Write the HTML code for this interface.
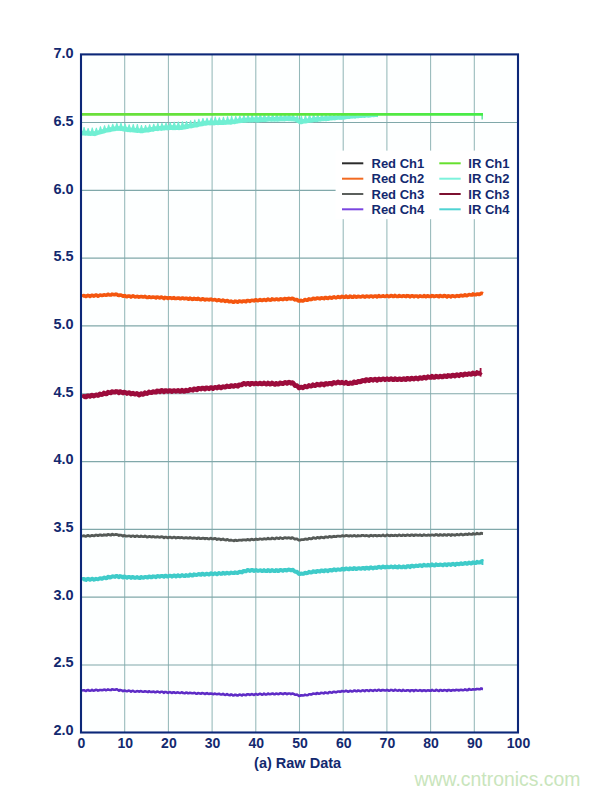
<!DOCTYPE html>
<html><head><meta charset="utf-8"><title>(a) Raw Data</title>
<style>
html,body{margin:0;padding:0;background:#fff;}
body{width:600px;height:796px;overflow:hidden;font-family:"Liberation Sans",sans-serif;}
svg{display:block;}
svg text{font-family:"Liberation Sans",sans-serif;font-weight:bold;fill:#13296f;}
</style></head><body>
<svg width="600" height="796" viewBox="0 0 600 796">
<defs><linearGradient id="gg" gradientUnits="userSpaceOnUse" x1="82" y1="0" x2="483" y2="0"><stop offset="0" stop-color="#6bdf3a"/><stop offset="0.6" stop-color="#5be63e"/><stop offset="1" stop-color="#46ec48"/></linearGradient></defs>
<rect x="0" y="0" width="600" height="796" fill="#ffffff"/>
<rect x="81" y="54.4" width="437" height="678.1" fill="#fdffff"/>
<g stroke-width="1.15" fill="none"><line x1="124.70" y1="54.4" x2="124.70" y2="732.5" stroke="#94b8b9" stroke-width="1.05"/><line x1="168.40" y1="54.4" x2="168.40" y2="732.5" stroke="#94b8b9" stroke-width="1.05"/><line x1="212.10" y1="54.4" x2="212.10" y2="732.5" stroke="#94b8b9" stroke-width="1.05"/><line x1="255.80" y1="54.4" x2="255.80" y2="732.5" stroke="#94b8b9" stroke-width="1.05"/><line x1="299.50" y1="54.4" x2="299.50" y2="732.5" stroke="#94b8b9" stroke-width="1.05"/><line x1="343.20" y1="54.4" x2="343.20" y2="732.5" stroke="#94b8b9" stroke-width="1.05"/><line x1="386.90" y1="54.4" x2="386.90" y2="732.5" stroke="#94b8b9" stroke-width="1.05"/><line x1="430.60" y1="54.4" x2="430.60" y2="732.5" stroke="#94b8b9" stroke-width="1.05"/><line x1="474.30" y1="54.4" x2="474.30" y2="732.5" stroke="#94b8b9" stroke-width="1.05"/><line x1="81.0" y1="122.51" x2="518.0" y2="122.51" stroke="#80a8aa"/><line x1="81.0" y1="190.32" x2="518.0" y2="190.32" stroke="#80a8aa"/><line x1="81.0" y1="258.13" x2="518.0" y2="258.13" stroke="#80a8aa"/><line x1="81.0" y1="325.94" x2="518.0" y2="325.94" stroke="#80a8aa"/><line x1="81.0" y1="393.75" x2="518.0" y2="393.75" stroke="#80a8aa"/><line x1="81.0" y1="461.56" x2="518.0" y2="461.56" stroke="#80a8aa"/><line x1="81.0" y1="529.37" x2="518.0" y2="529.37" stroke="#80a8aa"/><line x1="81.0" y1="597.18" x2="518.0" y2="597.18" stroke="#80a8aa"/><line x1="81.0" y1="664.99" x2="518.0" y2="664.99" stroke="#80a8aa"/></g>
<g fill="none" stroke-linejoin="round" stroke-linecap="butt">
<path d="M82.0,130.7 L83.0,130.9 L84.0,130.9 L85.0,130.7 L86.0,130.7 L87.0,130.8 L88.0,131.0 L89.0,130.9 L90.0,131.2 L91.0,131.2 L92.0,131.4 L93.0,131.4 L94.0,131.1 L95.0,131.2 L96.0,130.8 L97.0,130.8 L98.0,130.4 L99.0,129.9 L100.0,129.9 L101.0,129.4 L102.0,129.2 L103.0,129.0 L104.0,128.5 L105.0,128.3 L106.0,128.2 L107.0,128.1 L108.0,127.7 L109.0,127.3 L110.0,127.1 L111.0,127.2 L112.0,127.1 L113.0,126.8 L114.0,126.5 L115.0,126.5 L116.0,126.1 L117.0,125.7 L118.0,125.9 L119.0,126.2 L120.0,126.1 L121.0,126.0 L122.0,126.2 L123.0,126.3 L124.0,126.5 L125.0,126.8 L126.0,126.7 L127.0,127.1 L128.0,127.4 L129.0,127.3 L130.0,127.4 L131.0,127.8 L132.0,127.5 L133.0,127.6 L134.0,127.9 L135.0,127.7 L136.0,127.9 L137.0,128.3 L138.0,128.1 L139.0,128.3 L140.0,128.5 L141.0,128.6 L142.0,128.4 L143.0,128.2 L144.0,128.0 L145.0,128.0 L146.0,127.9 L147.0,127.5 L148.0,127.4 L149.0,127.2 L150.0,127.4 L151.0,127.0 L152.0,126.9 L153.0,127.0 L154.0,126.6 L155.0,126.3 L156.0,126.3 L157.0,126.5 L158.0,126.0 L159.0,126.1 L160.0,126.0 L161.0,125.9 L162.0,126.0 L163.0,125.6 L164.0,125.5 L165.0,125.6 L166.0,125.4 L167.0,125.5 L168.0,125.5 L169.0,125.5 L170.0,125.2 L171.0,125.2 L172.0,125.1 L173.0,125.2 L174.0,125.5 L175.0,125.5 L176.0,125.5 L177.0,125.2 L178.0,125.1 L179.0,125.4 L180.0,125.5 L181.0,125.2 L182.0,124.8 L183.0,125.0 L184.0,124.8 L185.0,124.3 L186.0,124.3 L187.0,124.4 L188.0,124.0 L189.0,124.0 L190.0,123.5 L191.0,123.7 L192.0,123.2 L193.0,123.4 L194.0,122.9 L195.0,122.6 L196.0,122.8 L197.0,122.4 L198.0,122.2 L199.0,122.2 L200.0,121.7 L201.0,121.5 L202.0,121.3 L203.0,121.0 L204.0,120.9 L205.0,120.8 L206.0,120.7 L207.0,120.7 L208.0,120.7 L209.0,120.6 L210.0,120.4 L211.0,120.4 L212.0,120.6 L213.0,120.4 L214.0,120.5 L215.0,120.2 L216.0,120.2 L217.0,120.5 L218.0,120.3 L219.0,120.4 L220.0,120.3 L221.0,120.2 L222.0,120.1 L223.0,120.1 L224.0,120.1 L225.0,120.2 L226.0,120.0 L227.0,120.1 L228.0,119.7 L229.0,119.6 L230.0,119.6 L231.0,119.8 L232.0,119.4 L233.0,119.5 L234.0,119.5 L235.0,119.0 L236.0,118.9 L237.0,119.1 L238.0,118.6 L239.0,118.6 L240.0,118.3 L241.0,118.4 L242.0,118.2 L243.0,117.8 L244.0,118.0 L245.0,117.6 L246.0,117.9 L247.0,117.5 L248.0,117.5 L249.0,117.6 L250.0,117.6 L251.0,117.8 L252.0,117.4 L253.0,117.6 L254.0,117.3 L255.0,117.6 L256.0,117.3 L257.0,117.5 L258.0,117.2 L259.0,117.2 L260.0,117.3 L261.0,117.3 L262.0,117.2 L263.0,117.3 L264.0,117.0 L265.0,117.0 L266.0,117.1 L267.0,117.3 L268.0,117.1 L269.0,117.0 L270.0,116.9 L271.0,117.1 L272.0,116.8 L273.0,117.2 L274.0,117.1 L275.0,116.9 L276.0,116.8 L277.0,116.9 L278.0,116.7 L279.0,116.8 L280.0,116.6 L281.0,116.4 L282.0,116.4 L283.0,116.4 L284.0,116.3 L285.0,116.7 L286.0,116.3 L287.0,116.3 L288.0,116.2 L289.0,116.2 L290.0,116.5 L291.0,116.3 L292.0,116.4 L293.0,116.4 L294.0,116.8 L295.0,116.8 L296.0,117.3 L297.0,117.9 L298.0,118.5 L299.0,119.2 L300.0,119.6 L301.0,119.5 L302.0,119.3 L303.0,118.9 L304.0,119.1 L305.0,118.8 L306.0,118.3 L307.0,118.5 L308.0,118.3 L309.0,117.8 L310.0,117.8 L311.0,117.9 L312.0,117.7 L313.0,117.6 L314.0,117.3 L315.0,117.2 L316.0,117.1 L317.0,117.2 L318.0,117.1 L319.0,117.0 L320.0,117.0 L321.0,116.8 L322.0,116.8 L323.0,116.7 L324.0,116.3 L325.0,116.6 L326.0,116.5 L327.0,116.3 L328.0,116.2 L329.0,116.2 L330.0,116.1 L331.0,115.7 L332.0,116.0 L333.0,115.9 L334.0,115.6 L335.0,115.9 L336.0,115.8 L337.0,115.7 L338.0,115.7 L339.0,115.8 L340.0,115.9 L341.0,115.3 L342.0,115.7 L343.0,115.5 L344.0,115.3 L345.0,115.3 L346.0,115.2 L347.0,115.6 L348.0,115.5 L349.0,115.5 L350.0,115.2 L351.0,115.3 L352.0,115.0 L353.0,115.2 L354.0,115.0 L355.0,115.1 L356.0,114.9 L357.0,115.3 L358.0,115.3 L359.0,115.3 L360.0,115.0 L361.0,115.3 L362.0,115.0 L363.0,114.9 L364.0,114.8 L365.0,114.9 L366.0,114.9 L367.0,115.0 L368.0,114.9 L369.0,115.2 L370.0,115.0 L371.0,115.2 L372.0,115.1 L373.0,115.1 L374.0,115.1 L375.0,114.9 L376.0,115.3 L377.0,115.0 L378.0,115.0 L378.0,117.2 L377.0,117.0 L376.0,117.0 L375.0,117.0 L374.0,117.3 L373.0,117.3 L372.0,117.1 L371.0,117.4 L370.0,117.6 L369.0,117.7 L368.0,117.8 L367.0,117.5 L366.0,117.6 L365.0,118.0 L364.0,118.0 L363.0,117.7 L362.0,117.9 L361.0,118.1 L360.0,118.1 L359.0,118.1 L358.0,118.4 L357.0,118.1 L356.0,118.5 L355.0,118.7 L354.0,118.5 L353.0,118.6 L352.0,118.8 L351.0,118.6 L350.0,119.1 L349.0,119.1 L348.0,119.1 L347.0,119.0 L346.0,119.3 L345.0,119.4 L344.0,119.7 L343.0,119.4 L342.0,119.9 L341.0,119.7 L340.0,120.0 L339.0,119.8 L338.0,119.8 L337.0,120.1 L336.0,120.1 L335.0,120.4 L334.0,120.2 L333.0,120.2 L332.0,120.4 L331.0,120.5 L330.0,120.6 L329.0,120.9 L328.0,121.1 L327.0,121.0 L326.0,121.4 L325.0,121.1 L324.0,121.2 L323.0,121.3 L322.0,121.3 L321.0,121.6 L320.0,121.8 L319.0,121.5 L318.0,122.0 L317.0,122.0 L316.0,122.2 L315.0,122.1 L314.0,122.0 L313.0,122.4 L312.0,122.6 L311.0,122.7 L310.0,122.8 L309.0,122.8 L308.0,123.1 L307.0,123.2 L306.0,123.5 L305.0,123.5 L304.0,123.5 L303.0,123.7 L302.0,124.2 L301.0,124.2 L300.0,124.3 L299.0,124.0 L298.0,123.3 L297.0,122.8 L296.0,122.2 L295.0,121.7 L294.0,121.6 L293.0,121.4 L292.0,121.3 L291.0,121.5 L290.0,121.1 L289.0,121.4 L288.0,121.1 L287.0,121.2 L286.0,121.1 L285.0,121.4 L284.0,121.5 L283.0,121.2 L282.0,121.5 L281.0,121.3 L280.0,121.4 L279.0,121.6 L278.0,121.7 L277.0,121.8 L276.0,121.6 L275.0,121.8 L274.0,121.7 L273.0,121.5 L272.0,121.8 L271.0,121.8 L270.0,121.6 L269.0,121.6 L268.0,121.7 L267.0,121.8 L266.0,121.9 L265.0,121.9 L264.0,121.9 L263.0,121.9 L262.0,121.9 L261.0,122.3 L260.0,122.1 L259.0,122.4 L258.0,122.4 L257.0,122.4 L256.0,122.5 L255.0,122.3 L254.0,122.1 L253.0,122.5 L252.0,122.6 L251.0,122.3 L250.0,122.7 L249.0,122.3 L248.0,122.6 L247.0,122.4 L246.0,122.8 L245.0,122.8 L244.0,122.7 L243.0,122.8 L242.0,123.0 L241.0,122.9 L240.0,123.2 L239.0,123.3 L238.0,123.5 L237.0,123.8 L236.0,123.8 L235.0,124.2 L234.0,124.3 L233.0,124.0 L232.0,124.4 L231.0,124.7 L230.0,124.7 L229.0,124.5 L228.0,124.7 L227.0,124.5 L226.0,125.0 L225.0,124.7 L224.0,125.0 L223.0,125.1 L222.0,124.9 L221.0,125.1 L220.0,125.0 L219.0,125.0 L218.0,125.2 L217.0,125.1 L216.0,125.0 L215.0,125.2 L214.0,125.4 L213.0,125.3 L212.0,125.3 L211.0,125.3 L210.0,125.5 L209.0,125.3 L208.0,125.2 L207.0,125.5 L206.0,125.8 L205.0,125.8 L204.0,125.8 L203.0,126.2 L202.0,126.2 L201.0,126.4 L200.0,126.5 L199.0,126.7 L198.0,127.2 L197.0,127.4 L196.0,127.5 L195.0,127.4 L194.0,127.8 L193.0,128.1 L192.0,128.3 L191.0,128.5 L190.0,128.3 L189.0,128.5 L188.0,129.0 L187.0,128.9 L186.0,129.3 L185.0,129.4 L184.0,129.4 L183.0,129.8 L182.0,129.9 L181.0,130.1 L180.0,130.1 L179.0,130.3 L178.0,130.0 L177.0,130.0 L176.0,130.0 L175.0,130.3 L174.0,130.1 L173.0,130.2 L172.0,130.0 L171.0,129.9 L170.0,130.1 L169.0,130.2 L168.0,130.3 L167.0,130.4 L166.0,130.1 L165.0,130.5 L164.0,130.6 L163.0,130.5 L162.0,130.7 L161.0,131.0 L160.0,130.6 L159.0,130.7 L158.0,131.2 L157.0,130.9 L156.0,131.1 L155.0,131.1 L154.0,131.5 L153.0,131.9 L152.0,131.6 L151.0,131.9 L150.0,131.9 L149.0,132.4 L148.0,132.4 L147.0,132.4 L146.0,132.5 L145.0,132.7 L144.0,132.8 L143.0,133.3 L142.0,133.2 L141.0,133.3 L140.0,133.2 L139.0,132.8 L138.0,133.0 L137.0,133.0 L136.0,132.8 L135.0,132.7 L134.0,132.5 L133.0,132.5 L132.0,132.3 L131.0,132.2 L130.0,132.5 L129.0,132.1 L128.0,132.2 L127.0,132.1 L126.0,131.7 L125.0,131.8 L124.0,131.4 L123.0,131.5 L122.0,131.0 L121.0,131.1 L120.0,131.0 L119.0,130.7 L118.0,130.9 L117.0,130.8 L116.0,131.0 L115.0,131.3 L114.0,131.3 L113.0,131.5 L112.0,131.6 L111.0,131.9 L110.0,132.2 L109.0,132.3 L108.0,132.6 L107.0,132.5 L106.0,132.8 L105.0,133.3 L104.0,133.4 L103.0,133.8 L102.0,133.9 L101.0,134.3 L100.0,134.6 L99.0,134.8 L98.0,135.0 L97.0,135.4 L96.0,135.8 L95.0,136.3 L94.0,135.9 L93.0,135.9 L92.0,135.8 L91.0,135.9 L90.0,136.1 L89.0,135.7 L88.0,136.0 L87.0,135.6 L86.0,135.7 L85.0,135.7 L84.0,135.6 L83.0,135.4 L82.0,135.4Z" fill="#70efd3" stroke="none"/>
<path d="M82.3,131.7 L83.6,126.9 L84.5,126.9 L85.8,131.7Z M86.4,131.8 L87.7,127.9 L88.6,127.9 L89.9,131.8Z M90.5,132.0 L91.8,127.6 L92.7,127.6 L94.0,132.0Z M94.6,131.7 L95.9,127.7 L96.8,127.7 L98.1,131.7Z M98.7,130.5 L100.0,126.2 L100.9,126.2 L102.2,130.5Z M102.8,129.2 L104.1,125.2 L105.0,125.2 L106.3,129.2Z M106.9,128.4 L108.2,124.6 L109.1,124.6 L110.4,128.4Z M111.0,127.6 L112.3,123.8 L113.2,123.8 L114.5,127.6Z M115.1,126.7 L116.4,122.9 L117.3,122.9 L118.6,126.7Z M119.2,127.1 L120.5,122.4 L121.4,122.4 L122.7,127.1Z M123.3,127.6 L124.6,123.4 L125.5,123.4 L126.8,127.6Z M127.4,128.2 L128.7,124.3 L129.6,124.3 L130.9,128.2Z M131.5,128.6 L132.8,123.9 L133.7,123.9 L135.0,128.6Z M135.6,128.9 L136.9,124.1 L137.8,124.1 L139.1,128.9Z M139.7,129.2 L141.0,125.1 L141.9,125.1 L143.2,129.2Z M143.8,128.8 L145.1,125.1 L146.0,125.1 L147.3,128.8Z M147.9,128.2 L149.2,124.3 L150.1,124.3 L151.4,128.2Z M152.0,127.5 L153.3,123.8 L154.2,123.8 L155.5,127.5Z M156.1,127.0 L157.4,123.0 L158.3,123.0 L159.6,127.0Z M160.2,126.6 L161.5,122.9 L162.4,122.9 L163.7,126.6Z M164.3,126.2 L165.6,122.4 L166.5,122.4 L167.8,126.2Z M168.4,126.1 L169.7,122.2 L170.6,122.2 L171.9,126.1Z M172.5,126.1 L173.8,121.8 L174.7,121.8 L176.0,126.1Z M176.6,126.1 L177.9,121.4 L178.8,121.4 L180.1,126.1Z M180.7,125.7 L182.0,121.2 L182.9,121.2 L184.2,125.7Z M184.8,125.1 L186.1,121.0 L187.0,121.0 L188.3,125.1Z M188.9,124.4 L190.2,120.3 L191.1,120.3 L192.4,124.4Z M193.0,123.7 L194.3,119.4 L195.2,119.4 L196.5,123.7Z M197.1,122.8 L198.4,118.8 L199.3,118.8 L200.6,122.8Z M201.2,122.0 L202.5,118.0 L203.4,118.0 L204.7,122.0Z M205.3,121.5 L206.6,117.8 L207.5,117.8 L208.8,121.5Z M209.4,121.4 L210.7,117.4 L211.6,117.4 L212.9,121.4Z M213.5,121.2 L214.8,116.4 L215.7,116.4 L217.0,121.2Z M217.6,121.0 L218.9,117.3 L219.8,117.3 L221.1,121.0Z M221.7,120.9 L223.0,116.7 L223.9,116.7 L225.2,120.9Z M225.8,120.7 L227.1,116.3 L228.0,116.3 L229.3,120.7Z M229.9,120.4 L231.2,115.8 L232.1,115.8 L233.4,120.4Z M234.0,119.8 L235.3,116.0 L236.2,116.0 L237.5,119.8Z M238.1,119.3 L239.4,115.4 L240.3,115.4 L241.6,119.3Z M242.2,118.7 L243.5,114.8 L244.4,114.8 L245.7,118.7Z M246.3,118.5 L247.6,114.4 L248.5,114.4 L249.8,118.5Z M250.4,118.4 L251.7,114.3 L252.6,114.3 L253.9,118.4Z M254.5,118.3 L255.8,113.5 L256.7,113.5 L258.0,118.3Z M258.6,118.1 L259.9,113.5 L260.8,113.5 L262.1,118.1Z M262.7,118.0 L264.0,113.4 L264.9,113.4 L266.2,118.0Z M266.8,117.9 L268.1,114.3 L269.0,114.3 L270.3,117.9Z M270.9,117.8 L272.2,114.1 L273.1,114.1 L274.4,117.8Z M275.0,117.6 L276.3,113.2 L277.2,113.2 L278.5,117.6Z M279.1,117.4 L280.4,113.2 L281.3,113.2 L282.6,117.4Z M283.2,117.3 L284.5,113.2 L285.4,113.2 L286.7,117.3Z M287.3,117.1 L288.6,113.2 L289.5,113.2 L290.8,117.1Z M291.4,117.5 L292.7,113.9 L293.6,113.9 L294.9,117.5Z M295.5,119.0 L296.8,115.0 L297.7,115.0 L299.0,119.0Z M299.6,120.1 L300.9,115.4 L301.8,115.4 L303.1,120.1Z M303.7,119.4 L305.0,114.8 L305.9,114.8 L307.2,119.4Z M307.8,118.7 L309.1,114.1 L310.0,114.1 L311.3,118.7Z M311.9,118.3 L313.2,113.5 L314.1,113.5 L315.4,118.3Z M316.0,117.9 L317.3,114.0 L318.2,114.0 L319.5,117.9Z M320.1,117.5 L321.4,113.8 L322.3,113.8 L323.6,117.5Z M324.2,117.2 L325.5,113.4 L326.4,113.4 L327.7,117.2Z M328.3,116.8 L329.6,113.2 L330.5,113.2 L331.8,116.8Z M332.4,116.5 L333.7,113.2 L334.6,113.2 L335.9,116.5Z M336.5,116.2 L337.8,113.2 L338.7,113.2 L340.0,116.2Z M340.6,116.0 L341.9,113.2 L342.8,113.2 L344.1,116.0Z M344.7,115.7 L346.0,113.2 L346.9,113.2 L348.2,115.7Z M348.8,115.5 L350.1,113.2 L351.0,113.2 L352.3,115.5Z M352.9,115.2 L354.2,113.2 L355.1,113.2 L356.4,115.2Z M357.0,115.0 L358.3,113.2 L359.2,113.2 L360.5,115.0Z M361.1,114.9 L362.4,113.2 L363.3,113.2 L364.6,114.9Z M365.2,114.7 L366.5,113.2 L367.4,113.2 L368.7,114.7Z M369.3,114.6 L370.6,113.2 L371.5,113.2 L372.8,114.6Z M373.4,114.5 L374.7,113.2 L375.6,113.2 L376.9,114.5Z " fill="#70efd3" stroke="none"/>
<path d="M482.2,114 L482.2,119.6" stroke="#6fe8a8" stroke-width="1.6"/>
<line x1="82" y1="114.2" x2="482.5" y2="114.2" stroke="#222" stroke-width="1"/>
<line x1="82" y1="114.45" x2="483" y2="114.4" stroke="url(#gg)" stroke-width="2.8"/>
<path d="M82.0,296.8 L83.0,295.8 L84.0,295.6 L85.0,296.0 L86.0,296.5 L87.0,295.9 L88.0,295.4 L89.0,295.7 L90.0,296.3 L91.0,295.7 L92.0,295.3 L93.0,295.6 L94.0,296.1 L95.0,295.4 L96.0,295.0 L97.0,295.5 L98.0,296.1 L99.0,295.6 L100.0,295.1 L101.0,295.3 L102.0,295.5 L103.0,295.3 L104.0,294.8 L105.0,295.0 L106.0,295.2 L107.0,295.0 L108.0,294.3 L109.0,294.7 L110.0,295.0 L111.0,294.9 L112.0,294.2 L113.0,294.5 L114.0,294.6 L115.0,294.6 L116.0,294.1 L117.0,294.5 L118.0,295.2 L119.0,295.4 L120.0,295.1 L121.0,295.2 L122.0,295.7 L123.0,296.2 L124.0,295.9 L125.0,295.7 L126.0,296.4 L127.0,296.6 L128.0,296.0 L129.0,296.0 L130.0,296.3 L131.0,297.0 L132.0,296.4 L133.0,295.9 L134.0,296.4 L135.0,296.9 L136.0,296.7 L137.0,296.4 L138.0,296.5 L139.0,297.1 L140.0,296.7 L141.0,296.5 L142.0,296.6 L143.0,297.0 L144.0,296.9 L145.0,296.4 L146.0,297.1 L147.0,297.5 L148.0,297.4 L149.0,296.8 L150.0,297.2 L151.0,297.4 L152.0,297.4 L153.0,297.0 L154.0,297.2 L155.0,297.4 L156.0,297.9 L157.0,297.0 L158.0,297.2 L159.0,297.7 L160.0,297.9 L161.0,297.1 L162.0,297.3 L163.0,297.8 L164.0,298.5 L165.0,297.4 L166.0,297.7 L167.0,297.9 L168.0,298.4 L169.0,297.9 L170.0,297.8 L171.0,298.1 L172.0,298.4 L173.0,298.0 L174.0,297.7 L175.0,298.4 L176.0,298.5 L177.0,298.2 L178.0,298.0 L179.0,298.1 L180.0,298.7 L181.0,298.6 L182.0,298.1 L183.0,298.2 L184.0,298.7 L185.0,298.6 L186.0,298.3 L187.0,298.4 L188.0,299.1 L189.0,299.1 L190.0,298.2 L191.0,298.6 L192.0,299.3 L193.0,299.2 L194.0,298.4 L195.0,298.9 L196.0,299.1 L197.0,299.3 L198.0,298.5 L199.0,299.0 L200.0,299.5 L201.0,299.7 L202.0,299.1 L203.0,298.8 L204.0,299.3 L205.0,299.9 L206.0,299.3 L207.0,299.3 L208.0,299.5 L209.0,299.9 L210.0,299.4 L211.0,299.2 L212.0,299.8 L213.0,300.0 L214.0,299.8 L215.0,299.6 L216.0,300.1 L217.0,300.6 L218.0,300.2 L219.0,299.8 L220.0,300.3 L221.0,300.8 L222.0,300.8 L223.0,300.1 L224.0,300.6 L225.0,301.4 L226.0,301.1 L227.0,300.5 L228.0,301.0 L229.0,301.7 L230.0,301.6 L231.0,301.2 L232.0,301.7 L233.0,302.2 L234.0,302.1 L235.0,301.2 L236.0,301.4 L237.0,301.9 L238.0,302.1 L239.0,301.2 L240.0,301.1 L241.0,301.5 L242.0,301.9 L243.0,301.0 L244.0,301.0 L245.0,301.4 L246.0,301.7 L247.0,300.6 L248.0,300.7 L249.0,300.8 L250.0,301.3 L251.0,300.5 L252.0,300.4 L253.0,300.5 L254.0,300.8 L255.0,300.2 L256.0,299.8 L257.0,300.5 L258.0,300.7 L259.0,300.2 L260.0,299.7 L261.0,300.3 L262.0,300.5 L263.0,300.0 L264.0,299.6 L265.0,299.9 L266.0,300.4 L267.0,299.8 L268.0,299.2 L269.0,299.7 L270.0,300.1 L271.0,300.0 L272.0,298.9 L273.0,299.3 L274.0,299.6 L275.0,299.6 L276.0,299.1 L277.0,299.2 L278.0,299.7 L279.0,299.6 L280.0,299.0 L281.0,298.9 L282.0,299.2 L283.0,299.6 L284.0,298.9 L285.0,298.5 L286.0,299.1 L287.0,299.4 L288.0,298.5 L289.0,298.4 L290.0,298.7 L291.0,299.0 L292.0,298.4 L293.0,298.6 L294.0,299.3 L295.0,299.8 L296.0,299.5 L297.0,299.6 L298.0,300.5 L299.0,301.0 L300.0,300.9 L301.0,300.3 L302.0,300.8 L303.0,300.9 L304.0,300.3 L305.0,299.6 L306.0,299.9 L307.0,300.2 L308.0,299.9 L309.0,298.9 L310.0,299.2 L311.0,299.6 L312.0,299.3 L313.0,298.3 L314.0,298.5 L315.0,299.0 L316.0,298.8 L317.0,298.1 L318.0,298.2 L319.0,298.5 L320.0,298.8 L321.0,298.1 L322.0,297.9 L323.0,298.2 L324.0,298.6 L325.0,297.6 L326.0,297.5 L327.0,298.2 L328.0,298.3 L329.0,297.7 L330.0,297.3 L331.0,297.9 L332.0,298.1 L333.0,297.2 L334.0,296.9 L335.0,297.5 L336.0,297.8 L337.0,297.4 L338.0,296.6 L339.0,297.2 L340.0,297.5 L341.0,297.0 L342.0,296.4 L343.0,296.8 L344.0,297.3 L345.0,297.1 L346.0,296.2 L347.0,296.8 L348.0,297.3 L349.0,297.1 L350.0,296.1 L351.0,296.5 L352.0,297.2 L353.0,297.2 L354.0,296.2 L355.0,296.4 L356.0,297.1 L357.0,296.9 L358.0,296.3 L359.0,296.5 L360.0,296.9 L361.0,296.8 L362.0,296.3 L363.0,296.2 L364.0,296.7 L365.0,297.1 L366.0,296.3 L367.0,296.1 L368.0,296.5 L369.0,296.9 L370.0,296.2 L371.0,296.0 L372.0,296.3 L373.0,296.8 L374.0,296.3 L375.0,296.1 L376.0,296.2 L377.0,296.8 L378.0,296.3 L379.0,295.7 L380.0,296.4 L381.0,296.5 L382.0,296.3 L383.0,295.8 L384.0,296.2 L385.0,296.5 L386.0,296.2 L387.0,295.7 L388.0,296.1 L389.0,296.6 L390.0,296.3 L391.0,295.6 L392.0,295.8 L393.0,296.5 L394.0,296.4 L395.0,295.5 L396.0,296.1 L397.0,296.5 L398.0,296.5 L399.0,295.6 L400.0,295.9 L401.0,296.2 L402.0,296.4 L403.0,295.8 L404.0,295.8 L405.0,296.3 L406.0,296.6 L407.0,295.7 L408.0,295.9 L409.0,296.1 L410.0,296.8 L411.0,296.0 L412.0,295.8 L413.0,296.1 L414.0,296.7 L415.0,296.0 L416.0,296.0 L417.0,296.1 L418.0,296.8 L419.0,296.3 L420.0,295.8 L421.0,296.3 L422.0,296.5 L423.0,296.4 L424.0,295.7 L425.0,296.3 L426.0,296.7 L427.0,296.1 L428.0,295.8 L429.0,296.3 L430.0,296.3 L431.0,296.3 L432.0,295.7 L433.0,295.9 L434.0,296.6 L435.0,296.3 L436.0,295.8 L437.0,295.9 L438.0,296.4 L439.0,296.6 L440.0,295.6 L441.0,295.9 L442.0,296.4 L443.0,296.5 L444.0,295.6 L445.0,295.8 L446.0,296.2 L447.0,296.8 L448.0,295.9 L449.0,296.0 L450.0,296.2 L451.0,296.8 L452.0,295.8 L453.0,295.8 L454.0,296.3 L455.0,296.6 L456.0,296.1 L457.0,295.6 L458.0,296.0 L459.0,296.4 L460.0,295.5 L461.0,295.4 L462.0,295.6 L463.0,295.9 L464.0,295.5 L465.0,294.8 L466.0,295.4 L467.0,295.6 L468.0,295.1 L469.0,294.6 L470.0,294.8 L471.0,295.0 L472.0,295.0 L473.0,293.9 L474.0,294.6 L475.0,294.7 L476.0,294.7 L477.0,294.0 L478.0,294.1 L479.0,294.4 L480.0,294.2 L481.0,293.3 L482.0,293.4 L483.0,293.8" stroke="#f4560f" stroke-width="3.7"/>
<path d="M82.0,397.7 L83.0,396.4 L84.0,396.2 L85.0,396.9 L86.0,397.0 L87.0,396.0 L88.0,395.8 L89.0,396.0 L90.0,396.5 L91.0,395.7 L92.0,395.0 L93.0,395.6 L94.0,396.1 L95.0,395.5 L96.0,394.7 L97.0,395.0 L98.0,395.7 L99.0,395.0 L100.0,393.8 L101.0,394.5 L102.0,394.6 L103.0,394.2 L104.0,392.9 L105.0,393.5 L106.0,394.0 L107.0,393.7 L108.0,392.2 L109.0,392.5 L110.0,392.8 L111.0,393.0 L112.0,391.6 L113.0,391.7 L114.0,392.2 L115.0,392.2 L116.0,391.4 L117.0,391.6 L118.0,392.1 L119.0,392.9 L120.0,391.5 L121.0,391.9 L122.0,392.5 L123.0,393.1 L124.0,392.1 L125.0,392.3 L126.0,392.7 L127.0,393.6 L128.0,393.0 L129.0,392.5 L130.0,393.2 L131.0,394.1 L132.0,393.4 L133.0,393.1 L134.0,393.9 L135.0,394.3 L136.0,393.9 L137.0,393.4 L138.0,394.0 L139.0,395.1 L140.0,394.6 L141.0,393.5 L142.0,393.7 L143.0,394.5 L144.0,394.0 L145.0,392.7 L146.0,393.3 L147.0,393.6 L148.0,393.2 L149.0,391.9 L150.0,392.3 L151.0,392.7 L152.0,392.7 L153.0,391.6 L154.0,391.8 L155.0,392.3 L156.0,392.3 L157.0,390.9 L158.0,391.0 L159.0,391.4 L160.0,391.8 L161.0,390.5 L162.0,390.4 L163.0,391.2 L164.0,391.9 L165.0,390.5 L166.0,390.6 L167.0,390.8 L168.0,391.5 L169.0,390.6 L170.0,390.5 L171.0,391.2 L172.0,391.7 L173.0,390.7 L174.0,390.5 L175.0,390.9 L176.0,391.4 L177.0,391.1 L178.0,390.3 L179.0,390.9 L180.0,391.5 L181.0,391.2 L182.0,390.2 L183.0,390.9 L184.0,391.5 L185.0,391.3 L186.0,390.0 L187.0,390.5 L188.0,390.9 L189.0,390.6 L190.0,389.3 L191.0,389.9 L192.0,390.1 L193.0,390.4 L194.0,388.8 L195.0,389.0 L196.0,389.5 L197.0,389.9 L198.0,388.4 L199.0,388.4 L200.0,388.8 L201.0,389.1 L202.0,388.1 L203.0,388.0 L204.0,388.6 L205.0,389.2 L206.0,387.7 L207.0,387.7 L208.0,388.2 L209.0,388.9 L210.0,387.9 L211.0,387.5 L212.0,387.8 L213.0,388.6 L214.0,387.8 L215.0,387.3 L216.0,387.5 L217.0,388.1 L218.0,387.4 L219.0,386.6 L220.0,387.5 L221.0,388.0 L222.0,387.4 L223.0,386.5 L224.0,387.0 L225.0,387.3 L226.0,386.9 L227.0,385.8 L228.0,386.6 L229.0,386.8 L230.0,386.7 L231.0,385.5 L232.0,385.8 L233.0,386.4 L234.0,386.4 L235.0,385.4 L236.0,385.5 L237.0,386.0 L238.0,386.3 L239.0,384.7 L240.0,384.7 L241.0,385.0 L242.0,384.9 L243.0,383.6 L244.0,383.3 L245.0,383.9 L246.0,384.3 L247.0,383.4 L248.0,383.2 L249.0,383.6 L250.0,384.5 L251.0,383.2 L252.0,383.2 L253.0,383.5 L254.0,384.1 L255.0,383.4 L256.0,383.1 L257.0,383.8 L258.0,384.0 L259.0,383.6 L260.0,383.0 L261.0,383.7 L262.0,384.0 L263.0,383.8 L264.0,382.9 L265.0,383.7 L266.0,384.1 L267.0,384.1 L268.0,382.9 L269.0,383.5 L270.0,384.3 L271.0,384.1 L272.0,382.9 L273.0,383.7 L274.0,384.1 L275.0,384.5 L276.0,383.3 L277.0,383.6 L278.0,384.1 L279.0,384.1 L280.0,382.9 L281.0,383.0 L282.0,383.7 L283.0,383.7 L284.0,382.8 L285.0,382.4 L286.0,382.9 L287.0,383.5 L288.0,382.5 L289.0,382.1 L290.0,382.5 L291.0,383.4 L292.0,382.5 L293.0,382.9 L294.0,384.2 L295.0,385.6 L296.0,385.5 L297.0,385.6 L298.0,386.8 L299.0,388.0 L300.0,387.6 L301.0,387.0 L302.0,387.4 L303.0,387.9 L304.0,387.0 L305.0,386.1 L306.0,386.7 L307.0,387.0 L308.0,386.4 L309.0,385.4 L310.0,386.0 L311.0,386.2 L312.0,385.9 L313.0,384.7 L314.0,385.2 L315.0,385.7 L316.0,385.4 L317.0,384.1 L318.0,384.4 L319.0,385.0 L320.0,385.2 L321.0,383.8 L322.0,384.0 L323.0,384.4 L324.0,385.0 L325.0,383.7 L326.0,383.4 L327.0,384.2 L328.0,384.3 L329.0,383.2 L330.0,383.2 L331.0,383.6 L332.0,384.1 L333.0,382.9 L334.0,382.4 L335.0,383.0 L336.0,383.3 L337.0,382.5 L338.0,381.9 L339.0,382.3 L340.0,383.0 L341.0,382.7 L342.0,382.1 L343.0,382.7 L344.0,383.4 L345.0,383.0 L346.0,382.2 L347.0,383.1 L348.0,383.7 L349.0,383.6 L350.0,382.8 L351.0,383.0 L352.0,383.5 L353.0,383.3 L354.0,381.8 L355.0,382.1 L356.0,382.7 L357.0,382.6 L358.0,381.3 L359.0,381.4 L360.0,381.9 L361.0,381.8 L362.0,380.5 L363.0,380.4 L364.0,380.8 L365.0,381.1 L366.0,379.6 L367.0,379.6 L368.0,380.2 L369.0,380.7 L370.0,379.5 L371.0,379.2 L372.0,379.8 L373.0,380.4 L374.0,379.5 L375.0,379.0 L376.0,379.7 L377.0,380.4 L378.0,379.3 L379.0,378.9 L380.0,379.5 L381.0,379.9 L382.0,379.3 L383.0,378.8 L384.0,379.0 L385.0,379.8 L386.0,379.2 L387.0,378.6 L388.0,379.3 L389.0,379.7 L390.0,379.3 L391.0,378.5 L392.0,379.1 L393.0,379.7 L394.0,379.6 L395.0,378.5 L396.0,379.1 L397.0,379.6 L398.0,379.6 L399.0,378.7 L400.0,378.8 L401.0,379.6 L402.0,379.7 L403.0,378.7 L404.0,378.6 L405.0,379.5 L406.0,379.6 L407.0,378.3 L408.0,378.4 L409.0,379.0 L410.0,379.4 L411.0,378.3 L412.0,378.1 L413.0,378.8 L414.0,379.2 L415.0,378.2 L416.0,377.8 L417.0,378.5 L418.0,379.1 L419.0,378.1 L420.0,377.5 L421.0,378.2 L422.0,378.5 L423.0,377.8 L424.0,377.0 L425.0,377.7 L426.0,378.2 L427.0,377.6 L428.0,376.6 L429.0,377.2 L430.0,377.5 L431.0,377.5 L432.0,376.2 L433.0,376.9 L434.0,377.5 L435.0,377.4 L436.0,376.1 L437.0,376.5 L438.0,377.1 L439.0,377.0 L440.0,376.1 L441.0,376.2 L442.0,377.0 L443.0,377.0 L444.0,375.8 L445.0,375.9 L446.0,376.5 L447.0,376.7 L448.0,375.4 L449.0,375.6 L450.0,376.0 L451.0,376.4 L452.0,375.3 L453.0,375.1 L454.0,375.6 L455.0,376.1 L456.0,375.1 L457.0,374.6 L458.0,375.3 L459.0,375.8 L460.0,374.6 L461.0,374.3 L462.0,374.8 L463.0,375.3 L464.0,374.4 L465.0,373.9 L466.0,374.4 L467.0,374.6 L468.0,374.1 L469.0,373.6 L470.0,374.0 L471.0,374.4 L472.0,374.0 L473.0,372.9 L474.0,373.5 L475.0,374.2 L476.0,373.9 L477.0,372.5 L478.0,373.1 L479.0,373.5 L480.0,373.1 L481.0,372.0" stroke="#9c0c3c" stroke-width="4.6"/>
<path d="M480.6,368 L480.6,376.6" stroke="#9c0c3c" stroke-width="1.8"/>
<path d="M82.0,536.5 L83.0,535.9 L84.0,535.7 L85.0,536.1 L86.0,536.4 L87.0,535.8 L88.0,535.4 L89.0,535.8 L90.0,536.1 L91.0,535.7 L92.0,535.3 L93.0,535.7 L94.0,535.9 L95.0,535.4 L96.0,535.0 L97.0,535.2 L98.0,535.7 L99.0,535.2 L100.0,534.9 L101.0,535.0 L102.0,535.5 L103.0,535.3 L104.0,534.7 L105.0,535.1 L106.0,535.0 L107.0,535.3 L108.0,534.4 L109.0,534.7 L110.0,535.0 L111.0,535.1 L112.0,534.2 L113.0,534.4 L114.0,534.9 L115.0,534.7 L116.0,534.4 L117.0,534.6 L118.0,534.9 L119.0,535.5 L120.0,535.0 L121.0,535.2 L122.0,535.5 L123.0,536.2 L124.0,535.5 L125.0,535.6 L126.0,536.2 L127.0,536.2 L128.0,536.0 L129.0,535.8 L130.0,536.0 L131.0,536.6 L132.0,536.0 L133.0,535.8 L134.0,536.2 L135.0,536.7 L136.0,536.1 L137.0,535.9 L138.0,536.3 L139.0,536.7 L140.0,536.6 L141.0,535.9 L142.0,536.5 L143.0,536.7 L144.0,536.7 L145.0,536.0 L146.0,536.5 L147.0,537.1 L148.0,536.9 L149.0,536.4 L150.0,536.5 L151.0,536.9 L152.0,537.0 L153.0,536.5 L154.0,536.7 L155.0,537.2 L156.0,537.1 L157.0,536.7 L158.0,536.9 L159.0,537.2 L160.0,537.3 L161.0,536.8 L162.0,536.7 L163.0,537.1 L164.0,537.8 L165.0,537.1 L166.0,537.1 L167.0,537.5 L168.0,537.9 L169.0,537.3 L170.0,537.1 L171.0,537.5 L172.0,537.9 L173.0,537.5 L174.0,537.2 L175.0,537.4 L176.0,538.0 L177.0,537.6 L178.0,537.4 L179.0,537.5 L180.0,537.9 L181.0,537.6 L182.0,537.5 L183.0,537.9 L184.0,538.2 L185.0,537.9 L186.0,537.6 L187.0,537.9 L188.0,538.2 L189.0,538.1 L190.0,537.5 L191.0,537.9 L192.0,538.2 L193.0,538.3 L194.0,537.8 L195.0,538.2 L196.0,538.2 L197.0,538.6 L198.0,537.8 L199.0,537.9 L200.0,538.6 L201.0,538.7 L202.0,538.3 L203.0,538.1 L204.0,538.3 L205.0,538.9 L206.0,538.3 L207.0,538.4 L208.0,538.8 L209.0,539.0 L210.0,538.5 L211.0,538.2 L212.0,538.8 L213.0,539.0 L214.0,538.6 L215.0,538.4 L216.0,538.8 L217.0,539.5 L218.0,539.0 L219.0,539.0 L220.0,539.1 L221.0,539.8 L222.0,539.4 L223.0,539.0 L224.0,539.7 L225.0,539.9 L226.0,540.0 L227.0,539.3 L228.0,539.7 L229.0,540.4 L230.0,540.4 L231.0,540.0 L232.0,540.3 L233.0,540.5 L234.0,540.8 L235.0,540.2 L236.0,540.2 L237.0,540.7 L238.0,540.5 L239.0,540.1 L240.0,540.1 L241.0,540.1 L242.0,540.3 L243.0,539.8 L244.0,539.9 L245.0,539.9 L246.0,540.2 L247.0,539.7 L248.0,539.4 L249.0,539.9 L250.0,540.1 L251.0,539.3 L252.0,539.2 L253.0,539.6 L254.0,539.8 L255.0,539.4 L256.0,538.9 L257.0,539.4 L258.0,539.5 L259.0,539.3 L260.0,538.8 L261.0,539.0 L262.0,539.3 L263.0,539.2 L264.0,538.7 L265.0,538.9 L266.0,539.1 L267.0,538.8 L268.0,538.1 L269.0,538.8 L270.0,538.9 L271.0,538.9 L272.0,538.0 L273.0,538.4 L274.0,538.8 L275.0,538.8 L276.0,538.0 L277.0,538.0 L278.0,538.4 L279.0,538.6 L280.0,537.7 L281.0,538.0 L282.0,538.3 L283.0,538.6 L284.0,537.9 L285.0,537.7 L286.0,537.9 L287.0,538.3 L288.0,537.8 L289.0,537.7 L290.0,538.1 L291.0,538.5 L292.0,537.6 L293.0,538.0 L294.0,538.6 L295.0,539.2 L296.0,538.9 L297.0,538.8 L298.0,539.6 L299.0,540.2 L300.0,540.1 L301.0,539.7 L302.0,539.6 L303.0,539.7 L304.0,539.6 L305.0,539.1 L306.0,539.0 L307.0,539.4 L308.0,539.2 L309.0,538.3 L310.0,538.6 L311.0,538.9 L312.0,538.6 L313.0,537.7 L314.0,537.9 L315.0,538.3 L316.0,538.3 L317.0,537.5 L318.0,537.5 L319.0,538.0 L320.0,538.1 L321.0,537.1 L322.0,537.3 L323.0,537.7 L324.0,537.9 L325.0,537.0 L326.0,536.9 L327.0,537.2 L328.0,537.4 L329.0,536.6 L330.0,536.5 L331.0,537.0 L332.0,537.1 L333.0,536.6 L334.0,536.2 L335.0,536.6 L336.0,536.7 L337.0,536.1 L338.0,536.1 L339.0,536.2 L340.0,536.3 L341.0,536.1 L342.0,535.7 L343.0,535.7 L344.0,536.2 L345.0,535.9 L346.0,535.5 L347.0,535.6 L348.0,535.9 L349.0,536.2 L350.0,535.6 L351.0,535.7 L352.0,536.1 L353.0,535.9 L354.0,535.5 L355.0,535.6 L356.0,536.2 L357.0,536.1 L358.0,535.5 L359.0,535.8 L360.0,535.8 L361.0,535.9 L362.0,535.3 L363.0,535.4 L364.0,535.7 L365.0,535.9 L366.0,535.5 L367.0,535.6 L368.0,535.8 L369.0,536.3 L370.0,535.6 L371.0,535.2 L372.0,535.7 L373.0,536.0 L374.0,535.3 L375.0,535.5 L376.0,535.5 L377.0,536.0 L378.0,535.6 L379.0,535.4 L380.0,535.6 L381.0,535.8 L382.0,535.5 L383.0,535.0 L384.0,535.7 L385.0,536.0 L386.0,535.5 L387.0,534.9 L388.0,535.3 L389.0,535.7 L390.0,535.8 L391.0,535.2 L392.0,535.5 L393.0,535.5 L394.0,535.7 L395.0,535.1 L396.0,535.3 L397.0,535.8 L398.0,535.5 L399.0,534.9 L400.0,535.3 L401.0,535.7 L402.0,535.7 L403.0,535.0 L404.0,535.2 L405.0,535.6 L406.0,535.5 L407.0,535.0 L408.0,535.0 L409.0,535.3 L410.0,535.7 L411.0,535.0 L412.0,534.9 L413.0,535.2 L414.0,535.7 L415.0,534.9 L416.0,535.0 L417.0,535.1 L418.0,535.4 L419.0,535.3 L420.0,534.8 L421.0,535.4 L422.0,535.7 L423.0,535.3 L424.0,534.7 L425.0,535.1 L426.0,535.3 L427.0,535.4 L428.0,534.9 L429.0,535.1 L430.0,535.4 L431.0,535.2 L432.0,534.8 L433.0,535.0 L434.0,535.4 L435.0,535.1 L436.0,534.5 L437.0,534.7 L438.0,535.3 L439.0,535.3 L440.0,534.5 L441.0,535.0 L442.0,535.1 L443.0,535.3 L444.0,534.5 L445.0,534.7 L446.0,535.2 L447.0,535.3 L448.0,534.5 L449.0,534.7 L450.0,534.9 L451.0,535.5 L452.0,534.5 L453.0,534.8 L454.0,534.8 L455.0,535.4 L456.0,534.8 L457.0,534.4 L458.0,534.8 L459.0,535.0 L460.0,534.5 L461.0,534.1 L462.0,534.5 L463.0,535.0 L464.0,534.7 L465.0,534.2 L466.0,534.2 L467.0,534.5 L468.0,534.5 L469.0,533.6 L470.0,534.2 L471.0,534.3 L472.0,534.4 L473.0,533.4 L474.0,534.0 L475.0,534.1 L476.0,534.0 L477.0,533.2 L478.0,533.8 L479.0,533.9 L480.0,533.8 L481.0,533.2 L482.0,533.5 L483.0,533.6" stroke="#555a57" stroke-width="2.8"/>
<path d="M82.0,580.1 L83.0,579.0 L84.0,578.9 L85.0,579.6 L86.0,580.0 L87.0,579.1 L88.0,578.8 L89.0,579.2 L90.0,579.8 L91.0,579.2 L92.0,578.7 L93.0,579.1 L94.0,579.7 L95.0,579.3 L96.0,578.8 L97.0,579.1 L98.0,579.3 L99.0,578.8 L100.0,578.3 L101.0,578.4 L102.0,578.8 L103.0,578.2 L104.0,577.6 L105.0,577.7 L106.0,578.2 L107.0,578.0 L108.0,576.8 L109.0,576.9 L110.0,577.5 L111.0,577.3 L112.0,576.4 L113.0,576.3 L114.0,576.6 L115.0,576.9 L116.0,575.9 L117.0,576.0 L118.0,576.6 L119.0,577.1 L120.0,576.1 L121.0,576.4 L122.0,576.9 L123.0,577.4 L124.0,576.5 L125.0,576.7 L126.0,577.3 L127.0,577.8 L128.0,576.9 L129.0,576.9 L130.0,577.2 L131.0,577.9 L132.0,577.1 L133.0,577.1 L134.0,577.6 L135.0,577.9 L136.0,577.5 L137.0,577.1 L138.0,577.6 L139.0,577.9 L140.0,578.0 L141.0,577.0 L142.0,577.3 L143.0,577.7 L144.0,577.5 L145.0,576.9 L146.0,577.0 L147.0,577.4 L148.0,577.5 L149.0,576.4 L150.0,576.6 L151.0,577.3 L152.0,577.2 L153.0,576.3 L154.0,576.6 L155.0,576.7 L156.0,577.2 L157.0,576.2 L158.0,576.0 L159.0,576.4 L160.0,576.8 L161.0,576.0 L162.0,575.9 L163.0,576.2 L164.0,576.8 L165.0,575.8 L166.0,575.8 L167.0,576.4 L168.0,576.5 L169.0,575.9 L170.0,575.7 L171.0,575.9 L172.0,576.6 L173.0,576.0 L174.0,575.4 L175.0,575.9 L176.0,576.5 L177.0,575.9 L178.0,575.3 L179.0,575.9 L180.0,576.3 L181.0,575.7 L182.0,575.1 L183.0,575.5 L184.0,576.0 L185.0,576.0 L186.0,575.1 L187.0,575.5 L188.0,575.8 L189.0,575.7 L190.0,574.5 L191.0,575.0 L192.0,575.5 L193.0,575.5 L194.0,574.3 L195.0,574.6 L196.0,575.0 L197.0,575.0 L198.0,574.2 L199.0,574.1 L200.0,574.6 L201.0,574.8 L202.0,573.7 L203.0,573.7 L204.0,574.5 L205.0,574.8 L206.0,574.0 L207.0,573.7 L208.0,574.2 L209.0,574.6 L210.0,573.9 L211.0,573.3 L212.0,573.9 L213.0,574.2 L214.0,573.7 L215.0,573.2 L216.0,573.7 L217.0,574.3 L218.0,573.6 L219.0,573.0 L220.0,573.5 L221.0,573.9 L222.0,573.7 L223.0,572.8 L224.0,573.2 L225.0,573.7 L226.0,573.3 L227.0,572.7 L228.0,573.2 L229.0,573.5 L230.0,573.3 L231.0,572.5 L232.0,572.9 L233.0,573.1 L234.0,573.1 L235.0,572.3 L236.0,572.6 L237.0,573.0 L238.0,573.0 L239.0,571.9 L240.0,571.8 L241.0,572.2 L242.0,572.4 L243.0,571.2 L244.0,571.0 L245.0,571.2 L246.0,571.3 L247.0,570.4 L248.0,569.9 L249.0,570.5 L250.0,571.0 L251.0,570.2 L252.0,569.9 L253.0,570.4 L254.0,570.9 L255.0,570.4 L256.0,570.0 L257.0,570.6 L258.0,570.9 L259.0,570.6 L260.0,570.3 L261.0,570.5 L262.0,571.1 L263.0,570.8 L264.0,570.1 L265.0,570.8 L266.0,571.0 L267.0,571.0 L268.0,570.0 L269.0,570.4 L270.0,571.2 L271.0,570.9 L272.0,570.0 L273.0,570.5 L274.0,571.0 L275.0,571.1 L276.0,570.1 L277.0,570.3 L278.0,571.0 L279.0,571.0 L280.0,569.9 L281.0,570.0 L282.0,570.4 L283.0,570.8 L284.0,569.9 L285.0,569.9 L286.0,570.3 L287.0,570.5 L288.0,569.7 L289.0,569.6 L290.0,569.9 L291.0,570.3 L292.0,569.9 L293.0,569.8 L294.0,570.9 L295.0,571.6 L296.0,571.9 L297.0,571.7 L298.0,573.0 L299.0,573.9 L300.0,574.0 L301.0,573.5 L302.0,573.7 L303.0,573.9 L304.0,573.6 L305.0,572.8 L306.0,573.0 L307.0,573.2 L308.0,572.9 L309.0,571.9 L310.0,572.3 L311.0,572.5 L312.0,572.3 L313.0,571.3 L314.0,571.5 L315.0,571.8 L316.0,571.9 L317.0,571.0 L318.0,571.1 L319.0,571.4 L320.0,571.4 L321.0,570.5 L322.0,570.5 L323.0,571.1 L324.0,571.3 L325.0,570.2 L326.0,570.5 L327.0,570.6 L328.0,571.1 L329.0,570.2 L330.0,570.1 L331.0,570.1 L332.0,570.6 L333.0,570.0 L334.0,569.3 L335.0,569.7 L336.0,570.2 L337.0,569.6 L338.0,569.3 L339.0,569.6 L340.0,569.8 L341.0,569.5 L342.0,568.7 L343.0,569.1 L344.0,569.6 L345.0,569.1 L346.0,568.4 L347.0,568.9 L348.0,569.2 L349.0,569.2 L350.0,568.3 L351.0,568.6 L352.0,568.9 L353.0,568.9 L354.0,568.0 L355.0,568.4 L356.0,568.9 L357.0,569.0 L358.0,568.2 L359.0,568.2 L360.0,568.6 L361.0,568.8 L362.0,568.1 L363.0,567.9 L364.0,568.4 L365.0,568.8 L366.0,567.7 L367.0,567.7 L368.0,568.4 L369.0,568.7 L370.0,567.7 L371.0,567.3 L372.0,568.0 L373.0,568.4 L374.0,567.6 L375.0,567.4 L376.0,567.8 L377.0,568.0 L378.0,567.2 L379.0,566.8 L380.0,567.3 L381.0,567.7 L382.0,567.1 L383.0,566.5 L384.0,567.1 L385.0,567.5 L386.0,567.0 L387.0,566.7 L388.0,567.0 L389.0,567.2 L390.0,567.1 L391.0,566.5 L392.0,566.8 L393.0,567.4 L394.0,567.1 L395.0,566.4 L396.0,567.0 L397.0,567.3 L398.0,567.4 L399.0,566.4 L400.0,566.8 L401.0,567.3 L402.0,567.3 L403.0,566.6 L404.0,566.6 L405.0,567.2 L406.0,567.3 L407.0,566.3 L408.0,566.1 L409.0,566.5 L410.0,567.1 L411.0,565.9 L412.0,565.7 L413.0,566.1 L414.0,566.6 L415.0,566.0 L416.0,565.6 L417.0,566.0 L418.0,566.1 L419.0,565.4 L420.0,565.3 L421.0,565.5 L422.0,566.1 L423.0,565.4 L424.0,564.8 L425.0,565.3 L426.0,565.6 L427.0,565.6 L428.0,564.8 L429.0,565.1 L430.0,565.6 L431.0,565.3 L432.0,564.4 L433.0,565.1 L434.0,565.4 L435.0,565.4 L436.0,564.4 L437.0,564.8 L438.0,565.1 L439.0,565.0 L440.0,564.5 L441.0,564.7 L442.0,564.9 L443.0,565.3 L444.0,564.4 L445.0,564.3 L446.0,564.8 L447.0,565.2 L448.0,564.2 L449.0,564.3 L450.0,564.4 L451.0,564.9 L452.0,564.2 L453.0,563.8 L454.0,564.3 L455.0,564.9 L456.0,564.0 L457.0,563.8 L458.0,564.0 L459.0,564.3 L460.0,563.7 L461.0,563.2 L462.0,563.9 L463.0,564.0 L464.0,563.6 L465.0,562.9 L466.0,563.4 L467.0,563.8 L468.0,563.4 L469.0,562.6 L470.0,563.0 L471.0,563.6 L472.0,563.2 L473.0,562.3 L474.0,562.7 L475.0,563.1 L476.0,563.0 L477.0,561.9 L478.0,562.4 L479.0,562.5 L480.0,562.4 L481.0,561.6 L482.0,561.5 L483.0,561.9" stroke="#3ecbc9" stroke-width="4"/>
<path d="M482.4,559 L482.4,565" stroke="#3ecbc9" stroke-width="2"/>
<path d="M82.0,691.2 L83.0,690.2 L84.0,690.2 L85.0,690.7 L86.0,691.0 L87.0,690.2 L88.0,690.0 L89.0,690.5 L90.0,690.7 L91.0,690.5 L92.0,689.8 L93.0,690.5 L94.0,690.7 L95.0,690.2 L96.0,689.8 L97.0,690.0 L98.0,690.6 L99.0,690.2 L100.0,689.9 L101.0,690.1 L102.0,690.3 L103.0,690.1 L104.0,689.6 L105.0,689.7 L106.0,690.3 L107.0,689.9 L108.0,689.4 L109.0,689.7 L110.0,689.9 L111.0,690.1 L112.0,689.2 L113.0,689.5 L114.0,689.8 L115.0,689.8 L116.0,689.3 L117.0,689.4 L118.0,690.0 L119.0,690.7 L120.0,689.9 L121.0,690.2 L122.0,690.5 L123.0,691.1 L124.0,690.5 L125.0,690.6 L126.0,691.0 L127.0,691.3 L128.0,690.8 L129.0,690.6 L130.0,691.0 L131.0,691.6 L132.0,691.0 L133.0,690.8 L134.0,691.4 L135.0,691.8 L136.0,691.5 L137.0,691.1 L138.0,691.2 L139.0,691.7 L140.0,691.3 L141.0,691.1 L142.0,691.5 L143.0,691.8 L144.0,691.7 L145.0,691.2 L146.0,691.6 L147.0,691.8 L148.0,692.1 L149.0,691.2 L150.0,691.7 L151.0,691.9 L152.0,692.0 L153.0,691.6 L154.0,691.8 L155.0,692.2 L156.0,692.1 L157.0,691.5 L158.0,691.7 L159.0,692.1 L160.0,692.5 L161.0,691.8 L162.0,691.7 L163.0,692.2 L164.0,692.8 L165.0,691.9 L166.0,692.1 L167.0,692.4 L168.0,692.9 L169.0,692.2 L170.0,692.1 L171.0,692.6 L172.0,692.9 L173.0,692.3 L174.0,692.3 L175.0,692.7 L176.0,692.9 L177.0,692.5 L178.0,692.4 L179.0,692.7 L180.0,692.9 L181.0,692.7 L182.0,692.2 L183.0,692.9 L184.0,693.1 L185.0,693.2 L186.0,692.5 L187.0,692.7 L188.0,693.3 L189.0,693.2 L190.0,692.7 L191.0,693.1 L192.0,693.3 L193.0,693.3 L194.0,692.9 L195.0,693.0 L196.0,693.6 L197.0,693.7 L198.0,693.0 L199.0,693.2 L200.0,693.6 L201.0,693.8 L202.0,693.0 L203.0,693.3 L204.0,693.6 L205.0,694.0 L206.0,693.5 L207.0,693.1 L208.0,693.8 L209.0,693.9 L210.0,693.6 L211.0,693.5 L212.0,693.7 L213.0,694.2 L214.0,693.9 L215.0,693.6 L216.0,694.0 L217.0,694.3 L218.0,693.9 L219.0,693.7 L220.0,694.2 L221.0,694.5 L222.0,694.4 L223.0,693.8 L224.0,694.5 L225.0,694.9 L226.0,694.7 L227.0,694.1 L228.0,694.7 L229.0,695.1 L230.0,695.3 L231.0,694.4 L232.0,694.8 L233.0,695.5 L234.0,695.3 L235.0,694.7 L236.0,694.8 L237.0,695.4 L238.0,695.4 L239.0,694.8 L240.0,694.6 L241.0,695.1 L242.0,695.4 L243.0,694.6 L244.0,694.7 L245.0,695.0 L246.0,695.1 L247.0,694.4 L248.0,694.3 L249.0,694.6 L250.0,694.9 L251.0,694.4 L252.0,694.1 L253.0,694.6 L254.0,694.9 L255.0,694.2 L256.0,694.0 L257.0,694.4 L258.0,694.7 L259.0,694.2 L260.0,693.7 L261.0,694.1 L262.0,694.8 L263.0,694.4 L264.0,693.6 L265.0,694.2 L266.0,694.6 L267.0,694.3 L268.0,693.5 L269.0,694.0 L270.0,694.3 L271.0,694.1 L272.0,693.5 L273.0,693.6 L274.0,694.3 L275.0,694.2 L276.0,693.5 L277.0,693.8 L278.0,694.1 L279.0,694.0 L280.0,693.3 L281.0,693.4 L282.0,693.7 L283.0,694.2 L284.0,693.6 L285.0,693.3 L286.0,693.6 L287.0,694.2 L288.0,693.6 L289.0,693.5 L290.0,693.5 L291.0,694.1 L292.0,693.6 L293.0,693.6 L294.0,694.1 L295.0,694.7 L296.0,694.7 L297.0,694.5 L298.0,695.2 L299.0,695.9 L300.0,695.7 L301.0,695.3 L302.0,695.4 L303.0,695.5 L304.0,695.3 L305.0,694.7 L306.0,695.0 L307.0,695.2 L308.0,695.0 L309.0,694.3 L310.0,694.3 L311.0,694.6 L312.0,694.2 L313.0,693.5 L314.0,693.8 L315.0,693.8 L316.0,694.0 L317.0,693.0 L318.0,693.3 L319.0,693.8 L320.0,693.5 L321.0,692.7 L322.0,692.9 L323.0,693.1 L324.0,693.5 L325.0,692.4 L326.0,692.7 L327.0,693.0 L328.0,693.2 L329.0,692.3 L330.0,692.1 L331.0,692.5 L332.0,692.7 L333.0,692.0 L334.0,691.7 L335.0,692.0 L336.0,692.4 L337.0,691.9 L338.0,691.5 L339.0,691.5 L340.0,691.9 L341.0,691.5 L342.0,691.0 L343.0,691.2 L344.0,691.5 L345.0,691.2 L346.0,690.7 L347.0,691.1 L348.0,691.7 L349.0,691.4 L350.0,690.8 L351.0,691.1 L352.0,691.5 L353.0,691.3 L354.0,690.6 L355.0,690.6 L356.0,691.2 L357.0,691.2 L358.0,690.4 L359.0,690.7 L360.0,691.2 L361.0,691.1 L362.0,690.5 L363.0,690.4 L364.0,690.8 L365.0,691.2 L366.0,690.2 L367.0,690.2 L368.0,690.7 L369.0,691.0 L370.0,690.1 L371.0,690.2 L372.0,690.5 L373.0,690.9 L374.0,690.2 L375.0,690.0 L376.0,690.4 L377.0,690.7 L378.0,690.0 L379.0,689.8 L380.0,690.4 L381.0,690.7 L382.0,690.1 L383.0,690.0 L384.0,690.2 L385.0,690.5 L386.0,690.4 L387.0,689.8 L388.0,690.3 L389.0,690.7 L390.0,690.4 L391.0,689.9 L392.0,690.1 L393.0,690.6 L394.0,690.6 L395.0,689.7 L396.0,690.2 L397.0,690.5 L398.0,690.7 L399.0,690.1 L400.0,690.3 L401.0,690.7 L402.0,690.9 L403.0,689.9 L404.0,690.4 L405.0,690.7 L406.0,690.7 L407.0,690.3 L408.0,690.2 L409.0,690.5 L410.0,691.2 L411.0,690.3 L412.0,690.3 L413.0,690.4 L414.0,691.1 L415.0,690.2 L416.0,690.1 L417.0,690.5 L418.0,690.8 L419.0,690.5 L420.0,690.1 L421.0,690.5 L422.0,691.0 L423.0,690.5 L424.0,690.3 L425.0,690.5 L426.0,691.0 L427.0,690.6 L428.0,690.2 L429.0,690.6 L430.0,690.6 L431.0,690.7 L432.0,689.9 L433.0,690.4 L434.0,690.8 L435.0,690.8 L436.0,689.8 L437.0,690.2 L438.0,690.7 L439.0,690.9 L440.0,690.1 L441.0,690.0 L442.0,690.6 L443.0,690.6 L444.0,690.0 L445.0,690.2 L446.0,690.3 L447.0,690.9 L448.0,690.1 L449.0,690.0 L450.0,690.3 L451.0,690.8 L452.0,690.2 L453.0,690.0 L454.0,690.2 L455.0,690.5 L456.0,689.9 L457.0,690.0 L458.0,690.0 L459.0,690.5 L460.0,689.9 L461.0,689.7 L462.0,689.9 L463.0,690.2 L464.0,690.0 L465.0,689.4 L466.0,689.8 L467.0,690.2 L468.0,690.0 L469.0,689.0 L470.0,689.5 L471.0,689.7 L472.0,689.7 L473.0,689.2 L474.0,689.5 L475.0,689.5 L476.0,689.4 L477.0,688.9 L478.0,689.1 L479.0,689.3 L480.0,689.3 L481.0,688.4 L482.0,688.9 L483.0,689.0" stroke="#5e2cc6" stroke-width="2.6"/>
</g>
<rect x="335.6" y="150.6" width="181.7" height="68.6" fill="#ffffff"/>
<g font-size="13"><line x1="342" y1="163.3" x2="363.3" y2="163.3" stroke="#2b2b2b" stroke-width="2"/><text x="371.5" y="167.9">Red Ch1</text><line x1="342" y1="178.7" x2="363.3" y2="178.7" stroke="#f26a21" stroke-width="2"/><text x="371.5" y="183.3">Red Ch2</text><line x1="342" y1="194.0" x2="363.3" y2="194.0" stroke="#5b5f5c" stroke-width="2"/><text x="371.5" y="198.6">Red Ch3</text><line x1="342" y1="209.3" x2="363.3" y2="209.3" stroke="#7a45e0" stroke-width="2"/><text x="371.5" y="213.9">Red Ch4</text><line x1="439.3" y1="163.3" x2="460.7" y2="163.3" stroke="#66e02e" stroke-width="2"/><text x="468.3" y="167.9">IR Ch1</text><line x1="439.3" y1="178.7" x2="460.7" y2="178.7" stroke="#7df2dc" stroke-width="2"/><text x="468.3" y="183.3">IR Ch2</text><line x1="439.3" y1="194.0" x2="460.7" y2="194.0" stroke="#7d1030" stroke-width="2"/><text x="468.3" y="198.6">IR Ch3</text><line x1="439.3" y1="209.3" x2="460.7" y2="209.3" stroke="#4fd3d3" stroke-width="2"/><text x="468.3" y="213.9">IR Ch4</text></g>
<rect x="81" y="54.4" width="437" height="678.1" fill="none" stroke="#0c2778" stroke-width="2.1"/>
<g font-size="14.5"><text x="73.6" y="58.4" text-anchor="end">7.0</text><text x="73.6" y="126.1" text-anchor="end">6.5</text><text x="73.6" y="193.7" text-anchor="end">6.0</text><text x="73.6" y="261.4" text-anchor="end">5.5</text><text x="73.6" y="329.0" text-anchor="end">5.0</text><text x="73.6" y="396.7" text-anchor="end">4.5</text><text x="73.6" y="464.4" text-anchor="end">4.0</text><text x="73.6" y="532.0" text-anchor="end">3.5</text><text x="73.6" y="599.7" text-anchor="end">3.0</text><text x="73.6" y="667.3" text-anchor="end">2.5</text><text x="73.6" y="735.0" text-anchor="end">2.0</text></g><g font-size="14"><text x="81.5" y="748.4" text-anchor="middle">0</text><text x="125.2" y="748.4" text-anchor="middle">10</text><text x="168.9" y="748.4" text-anchor="middle">20</text><text x="212.6" y="748.4" text-anchor="middle">30</text><text x="256.3" y="748.4" text-anchor="middle">40</text><text x="300.0" y="748.4" text-anchor="middle">50</text><text x="343.7" y="748.4" text-anchor="middle">60</text><text x="387.4" y="748.4" text-anchor="middle">70</text><text x="431.1" y="748.4" text-anchor="middle">80</text><text x="474.8" y="748.4" text-anchor="middle">90</text><text x="518.5" y="748.4" text-anchor="middle">100</text></g>
<text x="297.6" y="768.2" text-anchor="middle" font-size="14.5">(a) Raw Data</text>
<text x="497.5" y="786" text-anchor="middle" font-size="19.4" style="font-weight:normal;fill:#c9e5bc">www.cntronics.com</text>
</svg>
</body></html>
